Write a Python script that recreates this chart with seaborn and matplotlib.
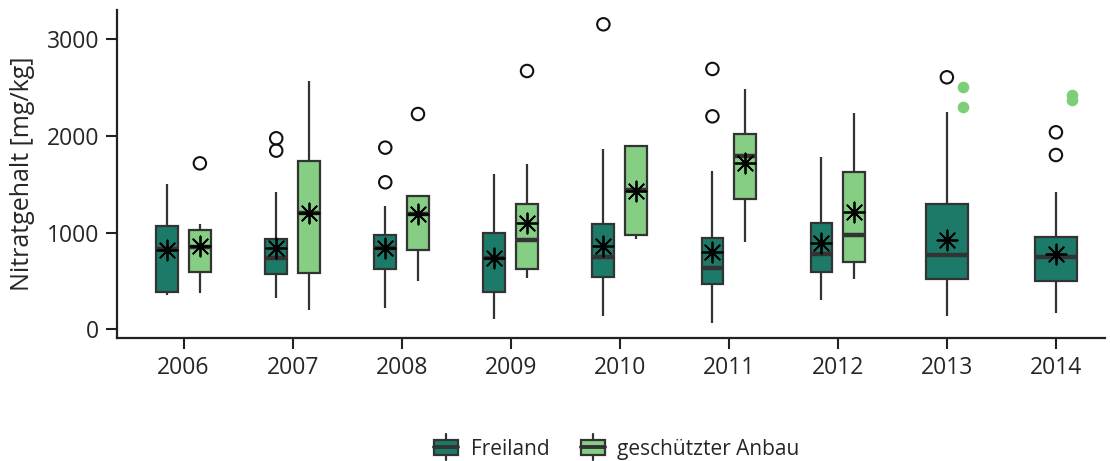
import numpy as np
import pandas as pd
import matplotlib
matplotlib.use("Agg")
import matplotlib.pyplot as plt
import seaborn as sns
from matplotlib.legend_handler import HandlerBase
from matplotlib.patches import Rectangle, Patch
from matplotlib.lines import Line2D

# ---------------- data ----------------
years = ['2006', '2007', '2008', '2009', '2010', '2011', '2012', '2013', '2014']
groups = ['Freiland', 'geschützter Anbau']

# Freiland: lower whisker, Q1, median, Q3, upper whisker, mean
frei_lo = [355, 327, 217, 103, 138, 69, 303, 138, 165]
frei_q1 = [389, 569, 621, 383, 544, 466, 590, 520, 503]
frei_med = [828, 734, 844, 741, 751, 637, 779, 765, 751]
frei_q3 = [1069, 934, 975, 1000, 1086, 948, 1096, 1296, 958]
frei_hi = [1500, 1424, 1279, 1603, 1868, 1641, 1786, 2251, 1424]
frei_mean = [822, 838, 838, 735, 862, 797, 896, 924, 779]

# geschützter Anbau (boxes only 2006-2012)
gesch_years = ['2006', '2007', '2008', '2009', '2010', '2011', '2012']
gesch_lo = [372, 200, 503, 527, 937, 903, 517]
gesch_q1 = [596, 585, 820, 627, 972, 1351, 693]
gesch_med = [855, 1206, 1190, 924, 1438, 1790, 975]
gesch_q3 = [1027, 1744, 1379, 1293, 1896, 2024, 1630]
gesch_hi = [1089, 2572, 1379, 1707, 1903, 2483, 2234]
gesch_mean = [860, 1200, 1190, 1103, 1434, 1717, 1213]

# outliers
frei_out_years = ['2007', '2007', '2008', '2008', '2010', '2011', '2011', '2013', '2014', '2014']
frei_out_vals = [1976, 1848, 1879, 1521, 3155, 2693, 2203, 2607, 2038, 1803]
gesch_out_years = ['2006', '2008', '2009']
gesch_out_vals = [1717, 2227, 2672]
# single values of geschützter Anbau (years without a box)
gesch_pt_years = ['2013', '2013', '2014', '2014']
gesch_pt_vals = [2506, 2303, 2424, 2372]

colors = {'Freiland': '#1c7a69', 'geschützter Anbau': '#85ce83'}
point_green = '#7ccf77'
edge = '#333333'

# ---------------- build frames ----------------
rows = []
for i, y in enumerate(years):
    for v in (frei_lo[i], frei_q1[i], frei_med[i], frei_q3[i], frei_hi[i]):
        rows.append((y, 'Freiland', v))
for i, y in enumerate(gesch_years):
    for v in (gesch_lo[i], gesch_q1[i], gesch_med[i], gesch_q3[i], gesch_hi[i]):
        rows.append((y, 'geschützter Anbau', v))
df = pd.DataFrame(rows, columns=['Jahr', 'Gruppe', 'Nitrat'])
paired = df['Jahr'].isin(gesch_years)
df_pair = df[paired]
df_solo = df[~paired]

DODGE = 0.15


def pos(year, group):
    if year not in gesch_years:
        return years.index(year) + (0 if group == 'Freiland' else DODGE)
    return years.index(year) + (-DODGE if group == 'Freiland' else DODGE)


# ---------------- figure ----------------
sns.set_style('ticks')
plt.rcParams['font.family'] = ['Open Sans', 'DejaVu Sans']

fig = plt.figure(figsize=(11.10, 4.61), dpi=100)
ax = fig.add_axes([117 / 1110, 1 - 338 / 461, (1105 - 117) / 1110, (338 - 10) / 461])

box_kw = dict(whis=(0, 100), showfliers=False, showcaps=False, linecolor=edge,
              linewidth=1.6, saturation=1, medianprops=dict(linewidth=3.2))

sns.boxplot(data=df_pair, x='Jahr', y='Nitrat', hue='Gruppe', order=years,
            hue_order=groups, palette=colors, width=0.6, gap=1 / 3,
            legend=False, ax=ax, **box_kw)
sns.boxplot(data=df_solo, x='Jahr', y='Nitrat', order=years,
            color=colors['Freiland'], width=0.385, ax=ax, **box_kw)

# outliers
ox = [pos(y, 'Freiland') for y in frei_out_years] + [pos(y, 'geschützter Anbau') for y in gesch_out_years]
oy = frei_out_vals + gesch_out_vals
sns.scatterplot(x=ox, y=oy, ax=ax, s=80, facecolor='none', edgecolor='#111111',
                linewidth=1.5, zorder=5)
# single points
sns.scatterplot(x=[pos(y, 'geschützter Anbau') for y in gesch_pt_years], y=gesch_pt_vals,
                ax=ax, s=70, color=point_green, linewidth=0, zorder=5)
# means
mx = [pos(y, 'Freiland') for y in years] + [pos(y, 'geschützter Anbau') for y in gesch_years]
my = frei_mean + gesch_mean
sns.scatterplot(x=mx, y=my, ax=ax, marker=(8, 2, 0), s=210, color='black',
                linewidth=1.3, zorder=6)

ax.set_xlim(-0.61, 8.45)
ax.set_ylim(-90, 3303)
ax.set_yticks([0, 1000, 2000, 3000])
ax.set_xticks(range(len(years)))
ax.set_xticklabels(years)
ax.set_xlabel('')
ax.set_ylabel('Nitratgehalt [mg/kg]', fontsize=18, labelpad=8)
ax.tick_params(axis='both', labelsize=16.5, length=8, width=1.5, color='#222222',
               direction='out', pad=5)
for s in ('left', 'bottom'):
    ax.spines[s].set_linewidth(1.6)
    ax.spines[s].set_color('#222222')
sns.despine(ax=ax)


class BoxGlyph(HandlerBase):
    def create_artists(self, legend, orig_handle, xdescent, ydescent, width, height,
                       fontsize, trans):
        fc = orig_handle.get_facecolor()
        x0, y0 = -xdescent, -ydescent
        h = height * 1.05
        yb = y0 + (height - h) / 2
        rect = Rectangle((x0, yb), width, h, facecolor=fc, edgecolor=edge,
                         linewidth=1.6, transform=trans)
        med = Line2D([x0, x0 + width], [yb + h / 2] * 2, color=edge, linewidth=2.8,
                     transform=trans)
        cx = x0 + width / 2
        w1 = Line2D([cx, cx], [yb + h, yb + h + 0.35 * h], color=edge, linewidth=1.6,
                    transform=trans)
        w2 = Line2D([cx, cx], [yb, yb - 0.35 * h], color=edge, linewidth=1.6,
                    transform=trans)
        return [w1, w2, rect, med]


handles = [Patch(facecolor=colors[g]) for g in groups]
fig.legend(handles, groups, loc='center', bbox_to_anchor=(617 / 1110, 1 - 449 / 461),
           ncol=2, frameon=False, fontsize=15, handlelength=1.15, handleheight=0.7,
           handletextpad=0.6, columnspacing=1.5,
           handler_map={Patch: BoxGlyph()})

fig.savefig('out.png', dpi=100)
